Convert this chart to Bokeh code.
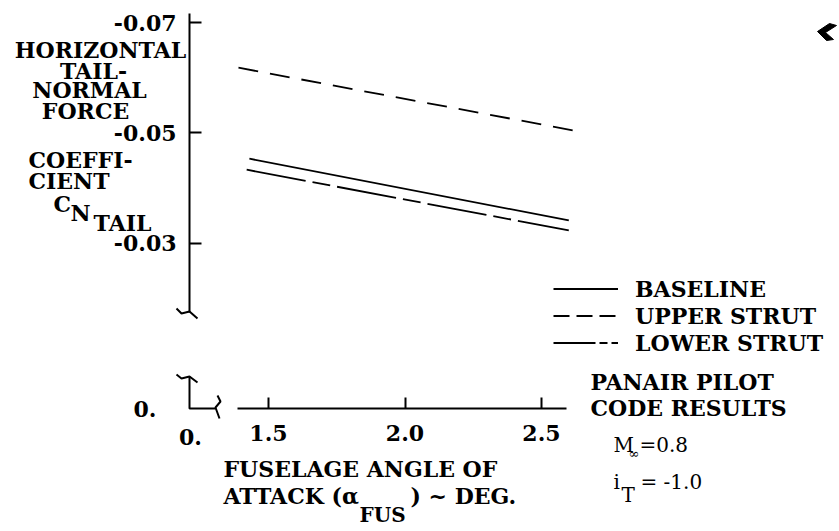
from bokeh.plotting import figure
from bokeh.models import (Range1d, LinearAxis, FixedTicker, BasicTickFormatter,
                          Label, Legend, LegendItem)
from bokeh.embed import file_html
from bokeh.resources import INLINE

# ---------------- data ----------------
alpha_baseline = [1.43, 2.60]
cn_baseline = [-0.0453, -0.0341]
alpha_upper = [1.39, 2.62]
cn_upper = [-0.0618, -0.0504]
alpha_lower = [1.42, 2.60]
cn_lower = [-0.0433, -0.0323]

series_names = ["BASELINE", "UPPER STRUT", "LOWER STRUT"]
x_ticks = [1.5, 2.0, 2.5]
y_ticks = [-0.07, -0.05, -0.03]
x_tick_labels = ["1.5", "2.0", "2.5"]
y_tick_labels = ["-0.07", "-0.05", "-0.03"]

# ---------------- layout ----------------
W, H = 839, 531


def dx(px):
    # page pixel -> alpha (1.5 at px 268, 273 px per degree)
    return 1.5 + (px - 268) / 273.0


def dy(py):
    # page pixel -> CN (0 at px 408, -0.07 at px 22)
    return -(408 - py) * 0.07 / 386.0


FONT = "DejaVu Serif"
FS = "22px"

p = figure(width=W, height=H, output_backend="svg", toolbar_location=None,
           x_range=Range1d(dx(0), dx(W)), y_range=Range1d(dy(H), dy(0)),
           x_axis_location=None, y_axis_location=None,
           min_border_left=0, min_border_right=0, min_border_top=0, min_border_bottom=0)
p.outline_line_color = None
p.background_fill_color = "white"
p.border_fill_color = "white"
p.grid.visible = False


def style_axis(ax):
    ax.axis_line_width = 2
    ax.axis_line_color = "black"
    ax.major_tick_line_width = 2
    ax.major_tick_line_color = "black"
    ax.major_tick_out = 0
    ax.minor_tick_in = 0
    ax.minor_tick_out = 0
    ax.major_label_text_font = FONT
    ax.major_label_text_font_style = "bold"
    ax.major_label_text_font_size = FS
    ax.major_label_text_color = "black"


xaxis = LinearAxis(ticker=FixedTicker(ticks=x_ticks),
                   formatter=BasicTickFormatter(precision=1),
                   major_label_overrides={float(t): l for t, l in zip(x_ticks, x_tick_labels)},
                   bounds=(1.386, 2.592), fixed_location=0.0)
style_axis(xaxis)
xaxis.major_tick_in = 11
xaxis.major_label_standoff = 16
p.add_layout(xaxis, "below")

yaxis = LinearAxis(ticker=FixedTicker(ticks=y_ticks),
                   formatter=BasicTickFormatter(precision=2),
                   major_label_overrides={float(t): l for t, l in zip(y_ticks, y_tick_labels)},
                   bounds=(-0.0716, -0.0174), fixed_location=dx(189))
style_axis(yaxis)
yaxis.major_tick_in = 12
yaxis.major_label_standoff = 13
p.add_layout(yaxis, "left")

# ---------------- curves ----------------
p.line(alpha_baseline, cn_baseline, line_color="black", line_width=1.8)
p.line(alpha_upper, cn_upper, line_color="black", line_width=1.8, line_dash="20 12")
p.line(alpha_lower, cn_lower, line_color="black", line_width=1.8, line_dash="60 7 18 7")

# legend glyphs (own dash patterns as in the reference key; no visible data)
nan = float("nan")
leg_dash = ["solid", "16 7", "42 4 8 4"]
leg_r = [p.line([nan, nan], [nan, nan], line_color="black", line_width=1.8, line_dash=d)
         for d in leg_dash]
legend = Legend(items=[LegendItem(label=n, renderers=[r]) for n, r in zip(series_names, leg_r)],
                location=(553, H - 356), glyph_width=65, glyph_height=27,
                label_height=27, label_standoff=17, spacing=0, padding=0, margin=0,
                border_line_color=None, background_fill_alpha=0,
                label_text_font=FONT, label_text_font_style="bold",
                label_text_font_size=FS, label_text_color="black")
p.add_layout(legend)

# ---------------- axis breaks (decoration) ----------------
breaks = [
    [(176, 308), (181, 313), (189, 311), (197, 318)],
    [(176, 374), (181, 378), (189, 376), (197, 382)],
    [(189, 376), (189, 408), (215, 408)],
    [(217, 395), (220, 401), (215, 407), (219, 418)],
]
for pts in breaks:
    p.line([dx(a) for a, b in pts], [dy(b) for a, b in pts], line_color="black", line_width=2)

# scan mark in the corner
mark = [(817, 31), (829, 23), (836, 25), (825, 32), (833, 39), (826, 40)]
p.patch([dx(a) for a, b in mark], [dy(b) for a, b in mark], color="black")


# ---------------- texts ----------------
def lab(text, px, py, align="left", size=FS, style="bold", font=FONT):
    p.add_layout(Label(x=dx(px), y=dy(py), text=text, text_align=align,
                       text_baseline="middle", text_font=font, text_font_size=size,
                       text_font_style=style, text_color="black"))


lab("HORIZONTAL", 100, 49, "center")
lab("TAIL-", 93, 70, "center")
lab("NORMAL", 89, 89, "center")
lab("FORCE", 85, 110, "center")
lab("COEFFI-", 28, 159)
lab("CIENT", 28, 180)
lab("C", 53, 203)
lab("N", 70, 212)
lab("TAIL", 93, 222)

lab("0.", 156, 408, "right")
lab("0.", 190, 436, "center")

lab("FUSELAGE ANGLE OF", 223, 468)
lab("ATTACK (\u03b1", 223, 495)
lab("FUS", 359, 514, size="20px")
lab(") ~ DEG.", 410, 495)

lab("PANAIR PILOT", 590, 381)
lab("CODE RESULTS", 590, 407)
lab("M", 613, 444, size="20px", style="normal")
lab("\u221e", 628, 453, size="13px", style="normal")
lab("=0.8", 639, 444, size="20px", style="normal")
lab("i", 613, 481, size="20px", style="normal")
lab("T", 621, 494, size="20px", style="normal")
lab("= -1.0", 640, 481, size="20px", style="normal")

open("out.html", "w").write(file_html(p, INLINE))
